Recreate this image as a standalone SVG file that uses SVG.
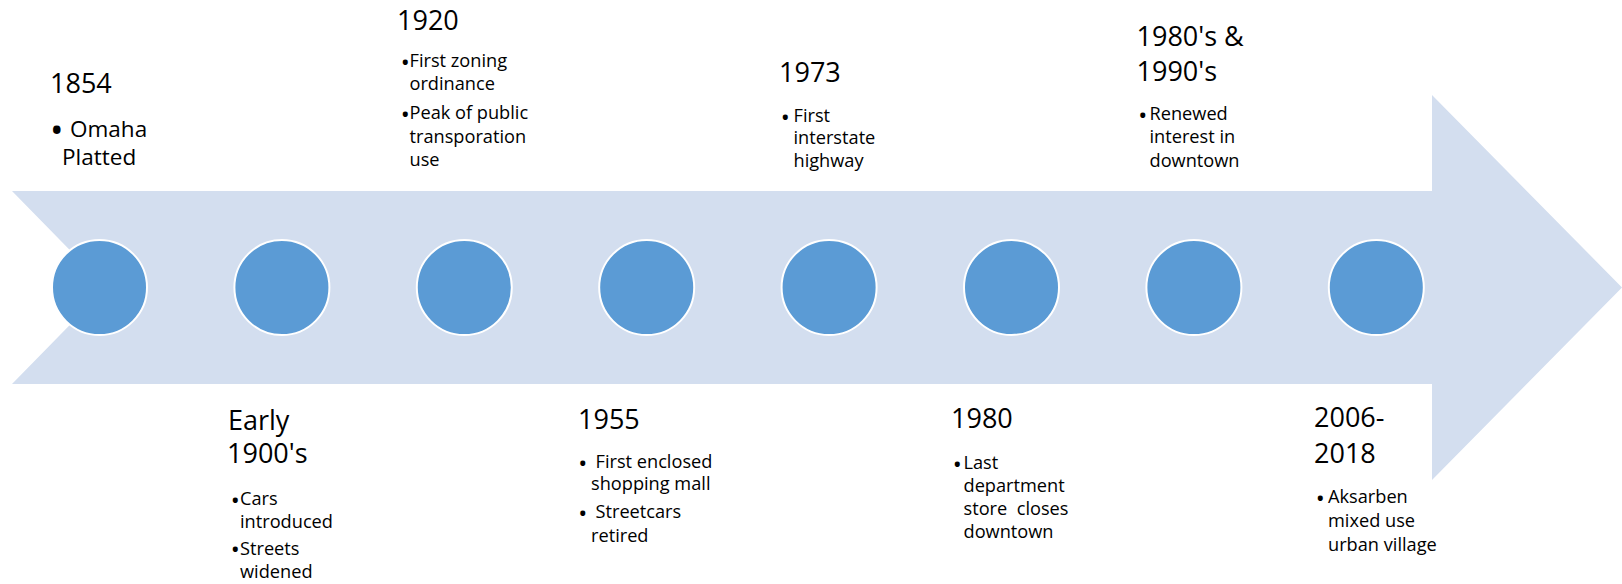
<svg xmlns="http://www.w3.org/2000/svg" width="1622" height="584" viewBox="0 0 1622 584">
<style>
  text { font-family: "Open Sans", "Noto Sans", "Liberation Sans", sans-serif; fill: #000; }
  .yr { font-size: 27px; }
  .bd { font-size: 18.2px; }
  .bd1 { font-size: 22.5px; }
  .bl { font-size: 24px; }
  .bl1 { font-size: 36px; }
  .dot { fill: #5B9BD5; stroke: #FFFFFF; stroke-width: 2; }
  .arrow { fill: #D3DEEF; }
</style>
<rect width="1622" height="584" fill="#FFFFFF"/>
<g id="connectors">
  <polygon id="timeline-arrow" class="arrow" points="12,191 1432,191 1432,95 1622,287.5 1432,480 1432,384 12,384 106.5,287.5"/>
</g>
<g id="node-1854">
  <circle class="dot" cx="99.5" cy="287.5" r="47.5"/>
  <text class="yr" x="50" y="93">1854</text>
  <text class="bl1" x="50" y="143.4">•</text>
  <text class="bd1" x="70" y="137">Omaha<tspan x="62" y="165">Platted</tspan></text>
</g>
<g id="node-early-1900s">
  <circle class="dot" cx="281.9" cy="287.5" r="47.5"/>
  <text class="yr" x="228" y="430">Early<tspan x="227" y="463">1900's</tspan></text>
  <text class="bl" x="230.7" y="508.9">•</text>
  <text class="bd" x="240" y="505">Cars<tspan x="240" y="527.5">introduced</tspan></text>
  <text class="bl" x="230.7" y="558.4">•</text>
  <text class="bd" x="240" y="554.5">Streets<tspan x="240" y="577.5">widened</tspan></text>
</g>
<g id="node-1920">
  <circle class="dot" cx="464.3" cy="287.5" r="47.5"/>
  <text class="yr" x="397" y="30">1920</text>
  <text class="bl" x="400.7" y="70.6">•</text>
  <text class="bd" x="409.5" y="66.7">First zoning<tspan x="409.5" y="90">ordinance</tspan></text>
  <text class="bl" x="400.7" y="123.2">•</text>
  <text class="bd" x="409.5" y="119.3">Peak of public<tspan x="409.5" y="142.7">transporation</tspan><tspan x="409.5" y="165.7">use</tspan></text>
</g>
<g id="node-1955">
  <circle class="dot" cx="646.7" cy="287.5" r="47.5"/>
  <text class="yr" x="578" y="429.3">1955</text>
  <text class="bl" x="578.2" y="471.6">•</text>
  <text class="bd" x="595.5" y="467.7">First enclosed<tspan x="591" y="490">shopping mall</tspan></text>
  <text class="bl" x="578.2" y="522.2">•</text>
  <text class="bd" x="595.5" y="518.3">Streetcars<tspan x="591" y="541.7">retired</tspan></text>
</g>
<g id="node-1973">
  <circle class="dot" cx="829.1" cy="287.5" r="47.5"/>
  <text class="yr" x="779" y="81.7">1973</text>
  <text class="bl" x="780.7" y="125.6">•</text>
  <text class="bd" x="793.5" y="121.7">First<tspan x="793.5" y="144">interstate</tspan><tspan x="793.5" y="166.5">highway</tspan></text>
</g>
<g id="node-1980">
  <circle class="dot" cx="1011.5" cy="287.5" r="47.5"/>
  <text class="yr" x="951" y="428.3">1980</text>
  <text class="bl" x="952.7" y="472.9">•</text>
  <text class="bd" x="963.5" y="469" xml:space="preserve">Last<tspan x="963.5" y="491.7">department</tspan><tspan x="963.5" y="515">store  closes</tspan><tspan x="963.5" y="538.3">downtown</tspan></text>
</g>
<g id="node-1980s-1990s">
  <circle class="dot" cx="1193.9" cy="287.5" r="47.5"/>
  <text class="yr" x="1136.5" y="46">1980's &amp;<tspan x="1136.5" y="81">1990's</tspan></text>
  <text class="bl" x="1138.2" y="123.9">•</text>
  <text class="bd" x="1149.5" y="120">Renewed<tspan x="1149.5" y="143.3">interest in</tspan><tspan x="1149.5" y="166.7">downtown</tspan></text>
</g>
<g id="node-2006-2018">
  <circle class="dot" cx="1376.3" cy="287.5" r="47.5"/>
  <text class="yr" x="1314" y="427.3">2006-<tspan x="1314" y="463.3">2018</tspan></text>
  <text class="bl" x="1315.7" y="507.2">•</text>
  <text class="bd" x="1328" y="503.3">Aksarben<tspan x="1328" y="527">mixed use</tspan><tspan x="1328" y="550.5">urban village</tspan></text>
</g>
</svg>
